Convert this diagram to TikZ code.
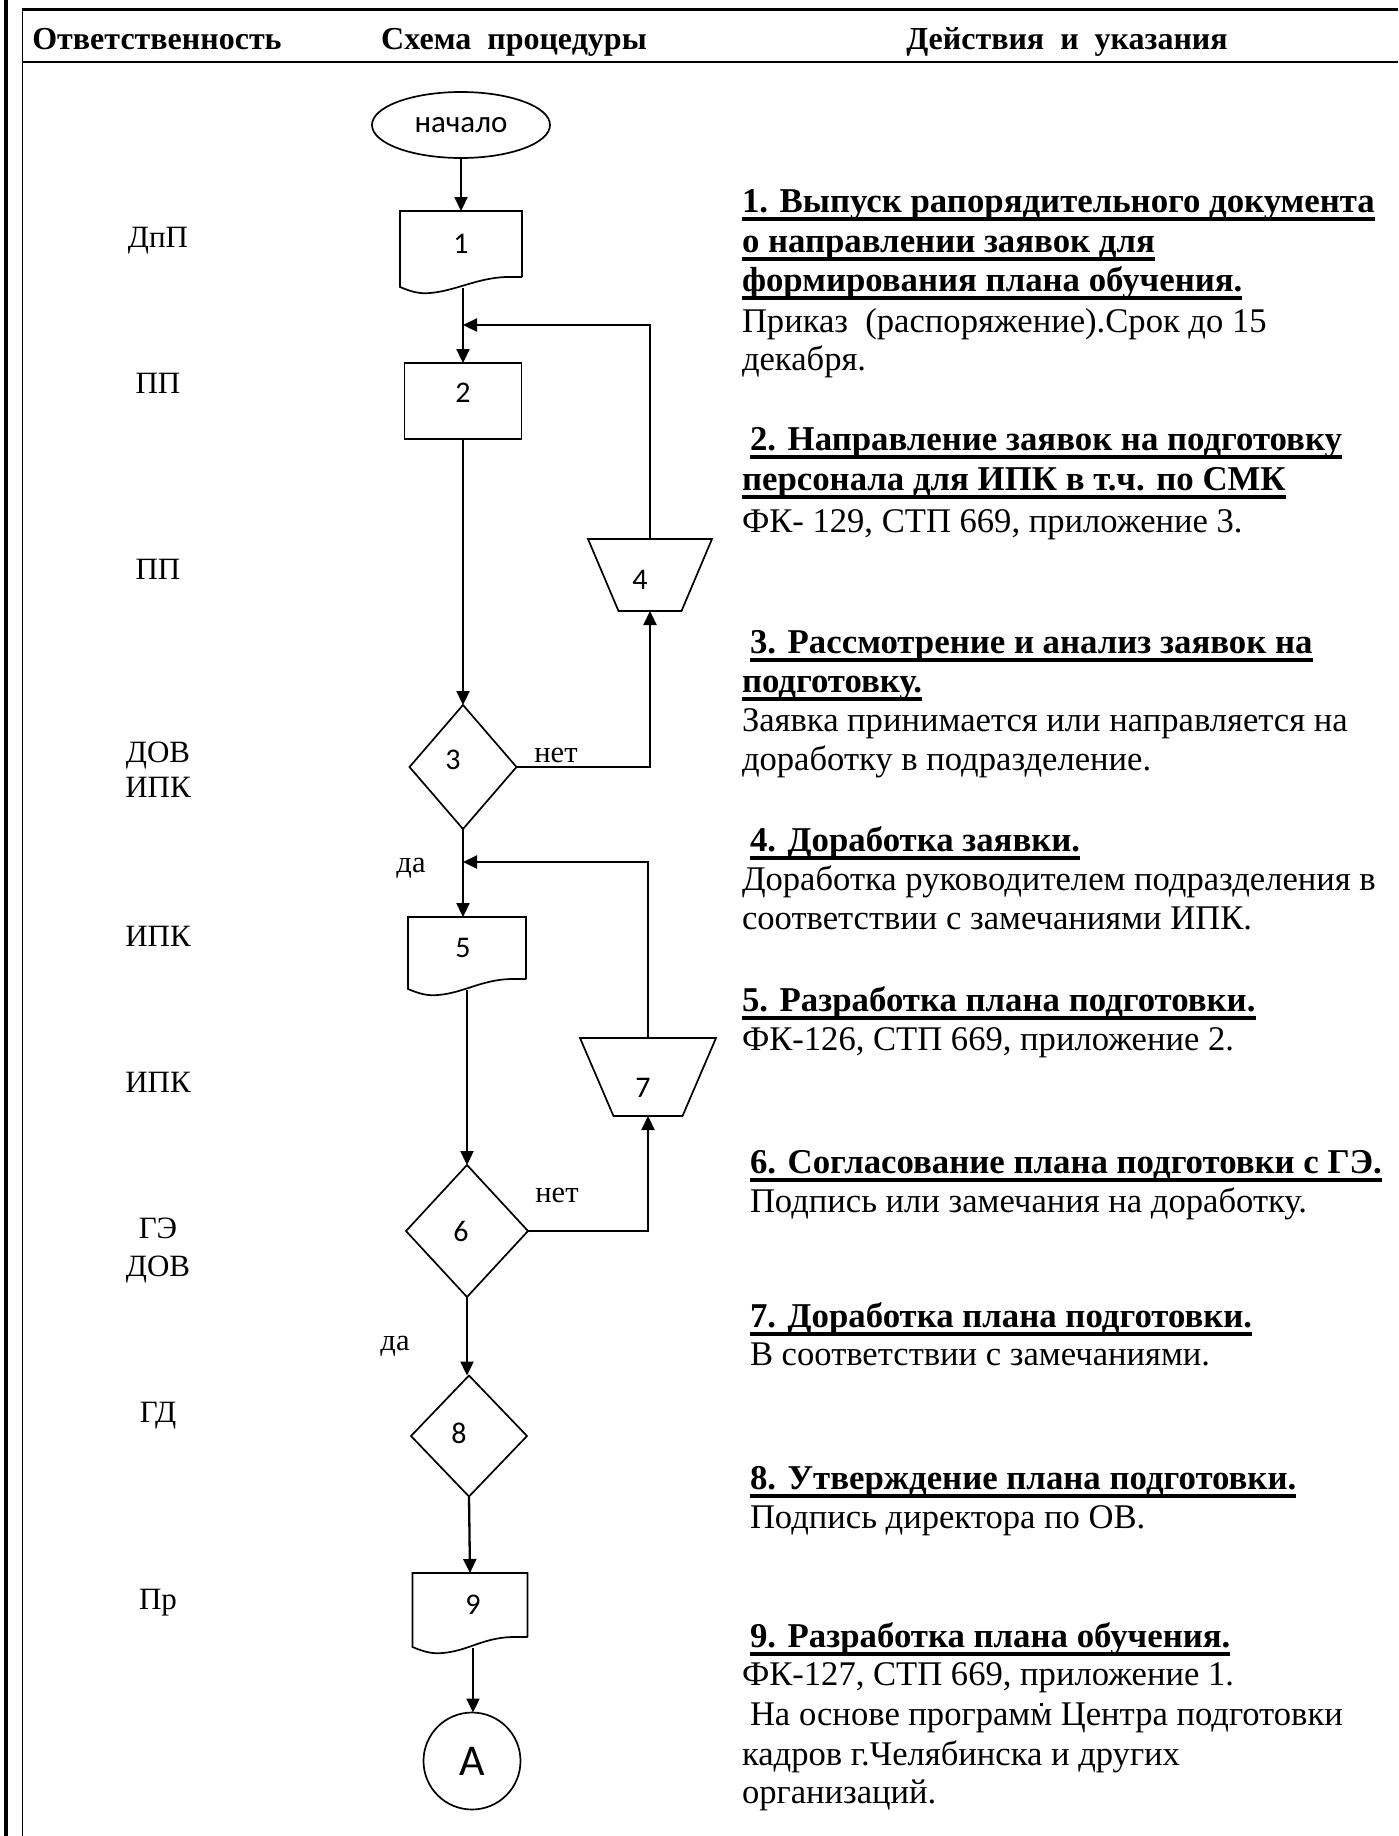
\documentclass[tikz,border=0pt]{standalone}
\usepackage{fontspec}
\setmainfont{Liberation Serif}
\newfontfamily\calib{Carlito}
\usetikzlibrary{arrows.meta,calc,shapes.geometric}
\newcommand\hul[1]{\setbox0\hbox{#1}\leavevmode\rlap{\rule[-9pt]{\wd0}{4pt}}\box0}
\newcommand\dotm{\leavevmode\setbox2\hbox{м}\rlap{м}\hbox to\wd2{\hss\raisebox{0.55em}{\rule{3.2pt}{3.2pt}}\hss}}
\newcommand\docpath[1]{%
  \draw[shp] ($(#1.south east)$) -- (#1.north east) -- (#1.north west) -- ($(#1.south west)+(0,10)$)
    .. controls ($(#1.south west)+(12,15)$) and ($(#1.south west)+(20,17)$) .. ($(#1.south west)+(30,16)$)
    .. controls ($(#1.south west)+(55,14)$) and ($(#1.south east)+(-45,1)$) .. ($(#1.south east)+(-16,0)$)
    -- (#1.south east);}
\newcommand\trappath[2]{%
  \draw[shp] (#1.north west) -- (#1.north east) -- ($(#1.south east)+(-#2,0)$) -- ($(#1.south west)+(#2,0)$) -- cycle;}
\begin{document}
\begin{tikzpicture}[x=1pt,y=-1pt,
  every node/.style={inner sep=0pt,outer sep=0pt},
  shp/.style={line width=1.7pt},
  ln/.style={line width=2.3pt},
  arr/.style={line width=2.3pt,-{Triangle[length=14pt,width=13pt]}},
  num/.style={font=\calib\fontsize{30}{34}\selectfont},
  lbl/.style={font=\fontsize{31}{36}\selectfont,anchor=base},
  hdr/.style={font=\bfseries\fontsize{32}{36}\selectfont,anchor=base},
  yn/.style={font=\fontsize{30.5}{34}\selectfont,anchor=base},
  rt/.style={font=\fontsize{34.6}{39.5}\selectfont,anchor=base west},
  rh/.style={font=\bfseries\fontsize{34.8}{39.5}\selectfont,anchor=base west}
]
\fill[white] (0,0) rectangle (1398,1836);
\useasboundingbox (0,0) rectangle (1398,1836);
% frame
\draw[line width=4pt] (6.4,0) -- (6.4,1836);
\draw[line width=1.6pt] (22.3,8.5) -- (22.3,1836);
\draw[line width=3pt] (21.5,10) -- (1398,10);
\draw[line width=2pt] (22.3,62) -- (1398,62);
% header
\node[hdr] (h1) at (157,50) {Ответственность};
\node[hdr] (h2) at (514,50) {Схема\ \ процедуры};
\node[hdr] (h3) at (1067,50) {Действия\ \ и\ \ указания};
% responsibility labels
\node[lbl] (l1) at (158,247) {ДпП};
\node[lbl] (l2) at (158,393) {ПП};
\node[lbl] (l3) at (158,579) {ПП};
\node[lbl] (l4a) at (158,762) {ДОВ};
\node[lbl] (l4b) at (158,797) {ИПК};
\node[lbl] (l5) at (158,946) {ИПК};
\node[lbl] (l6) at (158,1092) {ИПК};
\node[lbl] (l7a) at (158,1238) {ГЭ};
\node[lbl] (l7b) at (158,1276) {ДОВ};
\node[lbl] (l8) at (158,1422) {ГД};
\node[lbl] (l9) at (158,1609) {Пр};
% flowchart
\node[draw,shp,ellipse,minimum width=178,minimum height=66,font=\calib\fontsize{31}{35}\selectfont] (start) at (461,125) {начало};
\node[minimum width=122,minimum height=66,num] (doc1) at (461,244) {1};
\docpath{doc1}
\draw[arr] (start) -- (doc1);
\coordinate (d1o) at ($(doc1.south)+(2,11)$);
\node[draw,shp,minimum width=117,minimum height=76,num,text depth=16pt] (b2) at (463,401) {2};
\coordinate (m1) at (463,325);
\draw[arr] (d1o) -- (b2.north);
\node[draw,shp,diamond,minimum width=107,minimum height=124,num,text depth=14pt] (d3) at (463,767) {3\kern20pt};
\draw[arr] (b2) -- (d3);
\node[minimum width=124,minimum height=72,num,text height=29pt] (t4) at (650,575) {4\kern20pt};
\trappath{t4}{30.5}
\draw[arr] (d3.east) -| (t4.south);
\draw[arr] (t4.north) |- (m1);
\node[yn] (no1) at (556,762) {нет};
\node[minimum width=118,minimum height=62,num] (doc5) at (467,948) {5\kern8pt};
\docpath{doc5}
\coordinate (m2) at (463,862);
\draw[arr] (d3.south) -- (d3.south |- doc5.north);
\node[yn] (yes1) at (411,872) {да};
\node[minimum width=136,minimum height=78,num,text height=40pt] (t7) at (648,1077) {7\kern10pt};
\trappath{t7}{33.5}
\draw[arr] (t7.north) |- (m2);
\node[draw,shp,diamond,minimum width=122,minimum height=132,num] (d6) at (467,1231) {6\kern12pt};
\coordinate (d5o) at ($(doc5.south)+(0,11)$);
\draw[arr] (d5o) -- (d6.north);
\draw[arr] (d6.east) -| (t7.south);
\node[yn] (no2) at (557,1202) {нет};
\node[draw,shp,diamond,minimum width=116,minimum height=121,num,text depth=6pt] (d8) at (469,1436) {8\kern20pt};
\draw[arr] (d6.south) -- (d6.south |- d8.north);
\node[yn] (yes2) at (395,1350) {да};
\node[minimum width=115,minimum height=64,num] (doc9) at (470,1605) {\kern6pt 9};
\docpath{doc9}
\draw[arr] (d8.south) -- (doc9.north);
\coordinate (d9o) at ($(doc9.south)+(3,11)$);
\node[draw,shp,circle,minimum size=97,font=\calib\fontsize{44}{48}\selectfont] (cA) at (472,1761) {A};
\draw[arr] (d9o) -- (d9o |- cA.north);
% right column
\node[rh] (r1a) at (742,212) {\hul{1. Выпуск рапорядительного документа}};
\node[rh] (r1b) at (742,252) {\hul{о направлении заявок для}};
\node[rh] (r1c) at (742,291) {\hul{формирования плана обучения.}};
\node[rt] (r1d) at (742,332) {Приказ\ \ (распоряжение).Срок до 15};
\node[rt] (r1e) at (742,370) {декабря.};
\node[rh] (r2a) at (750,450) {\hul{2. Направление заявок на подготовку}};
\node[rh] (r2b) at (742,490) {\hul{персонала для ИПК в т.ч. по СМК}};
\node[rt] (r2c) at (742,532) {ФК- 129, СТП 669, приложение 3.};
\node[rh] (r3a) at (750,653) {\hul{3. Рассмотрение и анализ заявок на}};
\node[rh] (r3b) at (742,692) {\hul{подготовку.}};
\node[rt] (r3c) at (742,731) {Заявка принимается или направляется на};
\node[rt] (r3d) at (742,770) {доработку в подразделение.};
\node[rh] (r4a) at (750,851) {\hul{4. Доработка заявки.}};
\node[rt] (r4b) at (742,890) {Доработка руководителем подразделения в};
\node[rt] (r4c) at (742,929) {соответствии с замечаниями ИПК.};
\node[rh] (r5a) at (742,1011) {\hul{5. Разработка плана подготовки.}};
\node[rt] (r5b) at (742,1050) {ФК-126, СТП 669, приложение 2.};
\node[rh] (r6a) at (750,1173) {\hul{6. Согласование плана подготовки с ГЭ.}};
\node[rt] (r6b) at (750,1212) {Подпись или замечания на доработку.};
\node[rh] (r7a) at (750,1327) {\hul{7. Доработка плана подготовки.}};
\node[rt] (r7b) at (750,1365) {В соответствии с замечаниями.};
\node[rh] (r8a) at (750,1489) {\hul{8. Утверждение плана подготовки.}};
\node[rt] (r8b) at (750,1528) {Подпись директора по ОВ.};
\node[rh] (r9a) at (750,1647) {\hul{9. Разработка плана обучения.}};
\node[rt] (r9b) at (742,1685) {ФК-127, СТП 669, приложение 1.};
\node[rt] (r9c) at (750,1725) {На основе програм\dotm\ Центра подготовки};
\node[rt] (r9d) at (742,1765) {кадров г.Челябинска и других};
\node[rt] (r9e) at (742,1803) {организаций.};
\end{tikzpicture}
\end{document}
